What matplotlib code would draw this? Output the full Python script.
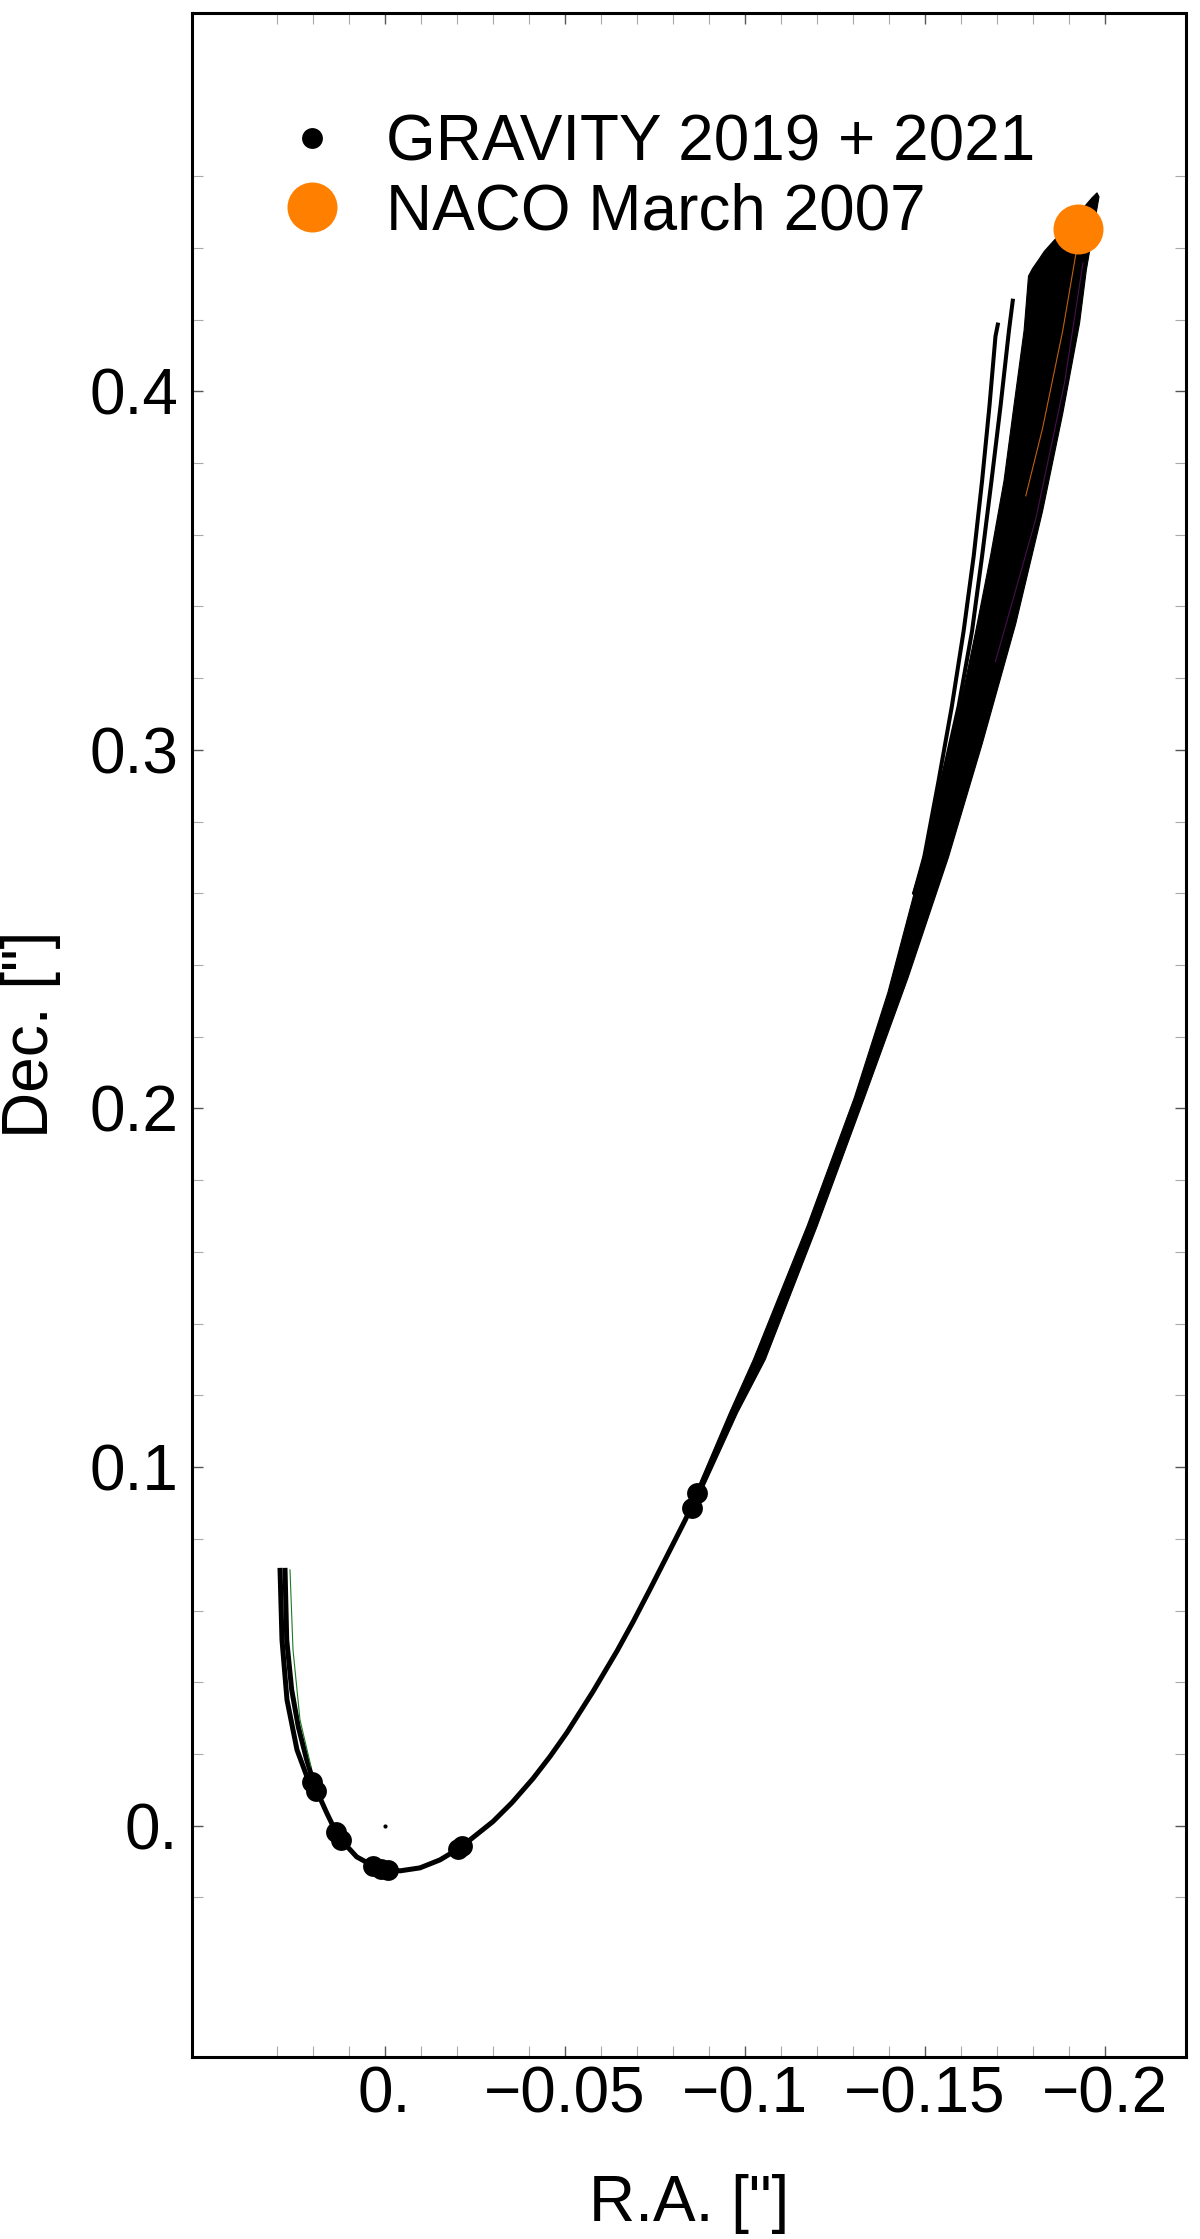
import numpy as np
import matplotlib
matplotlib.use('Agg')
import matplotlib.pyplot as plt
from matplotlib.lines import Line2D

plt.rcParams['font.family'] = ['Liberation Sans', 'DejaVu Sans']

# orbit through the GRAVITY points (R.A., Dec. in arcsec)
orbit_ra = [0.02767, 0.02719, 0.02581, 0.02397, 0.02164, 0.01933, 0.01608, 0.01286,
            0.00775, 0.00267, -0.00428, -0.00983, -0.01539, -0.02094, -0.03011,
            -0.03539, -0.04122, -0.04594, -0.05067, -0.05789, -0.06456, -0.06900,
            -0.07372, -0.08011, -0.08344, -0.08706, -0.09233, -0.09678, -0.10150]
orbit_dec = [0.07189, 0.05181, 0.03787, 0.02755, 0.01835, 0.01082, 0.00357, -0.00312,
             -0.00870, -0.01149, -0.01260, -0.01177, -0.00954, -0.00619, 0.00115,
             0.00643, 0.01313, 0.01927, 0.02599, 0.03740, 0.04870, 0.05680,
             0.06590, 0.07850, 0.08510, 0.09270, 0.10480, 0.11512, 0.12516]

# second trace at the start of the orbit
start_ra = [0.02906, 0.02850, 0.02711, 0.02433, 0.02072]
start_dec = [0.07189, 0.05182, 0.03508, 0.02113, 0.01137]
green_ra = [0.02628, 0.02544, 0.02350, 0.02044]
green_dec = [0.07133, 0.04902, 0.02950, 0.01645]

# envelope of the fan of orbits towards 2007
fan_left_ra = [-0.08636, -0.09581, -0.10244, -0.11739, -0.13047, -0.13981, -0.14700,
               -0.14960, -0.15480, -0.15990, -0.16420, -0.16831, -0.17206, -0.17483,
               -0.17764, -0.17886, -0.17997, -0.18186, -0.18325, -0.18606, -0.18839,
               -0.19317, -0.19650, -0.19789]
fan_left_dec = [0.09281, 0.11512, 0.12995, 0.16729, 0.20296, 0.23235, 0.25962,
                0.27011, 0.29108, 0.31208, 0.33305, 0.35404, 0.37502, 0.39601,
                0.41698, 0.43210, 0.43419, 0.43692, 0.43901, 0.44217, 0.44426,
                0.45003, 0.45393, 0.45532]
fan_right_ra = [-0.19844, -0.19492, -0.19306, -0.18839, -0.18278, -0.17531, -0.16597,
                -0.15664, -0.14542, -0.13328, -0.12019, -0.10572, -0.09803, -0.08789]
fan_right_dec = [0.45421, 0.43377, 0.41907, 0.39389, 0.36662, 0.33514, 0.30159,
                 0.27011, 0.23653, 0.20296, 0.16729, 0.12995, 0.11512, 0.09281]

# two orbits that split off from the fan
split1_ra = [-0.14700, -0.14990, -0.15383, -0.15756, -0.16083, -0.16364, -0.16597,
             -0.16803, -0.16969, -0.17044]
split1_dec = [0.25962, 0.27011, 0.29108, 0.31208, 0.33305, 0.35404, 0.37502,
              0.39601, 0.41534, 0.41913]
split2_ra = [-0.14700, -0.15030, -0.15475, -0.15944, -0.16317, -0.16597, -0.16858,
             -0.17111, -0.17344, -0.17456]
split2_dec = [0.25962, 0.27011, 0.29108, 0.31208, 0.33305, 0.35404, 0.37502,
              0.39601, 0.41698, 0.42580]

# coloured orbits visible inside the fan
orange_ra = [-0.19214, -0.18839, -0.18278, -0.17811]
orange_dec = [0.43901, 0.41698, 0.38971, 0.37083]
purple_ra = [-0.19400, -0.18886, -0.18092, -0.16969]
purple_dec = [0.43586, 0.40229, 0.36453, 0.32465]

# GRAVITY 2019 + 2021 positions
grav_ra = [0.02017, 0.01906, 0.01350, 0.01211, 0.00322, 0.00100, -0.00094,
           -0.02039, -0.02150, -0.08539, -0.08678]
grav_dec = [0.01221, 0.00970, -0.00173, -0.00396, -0.01121, -0.01205, -0.01233,
            -0.00647, -0.00563, 0.08862, 0.09281]

# NACO March 2007
naco_ra = [-0.1927]
naco_dec = [0.4453]

x_ticks = [0, -0.05, -0.1, -0.15, -0.2]
x_labels = ['0.', '\u22120.05', '\u22120.1', '\u22120.15', '\u22120.2']
y_ticks = [0, 0.1, 0.2, 0.3, 0.4]
y_labels = ['0.', '0.1', '0.2', '0.3', '0.4']

orange = '#ff8000'

fig = plt.figure(figsize=(12, 22.39), dpi=100)
ax = fig.add_axes([0.16, 0.0813, 0.8283, 0.9131])

ax.plot(orbit_ra, orbit_dec, color='black', lw=3.6, solid_capstyle='butt',
        solid_joinstyle='round', zorder=2)
ax.plot(start_ra, start_dec, color='black', lw=3.6, solid_capstyle='butt',
        solid_joinstyle='round', zorder=2)
ax.plot(green_ra, green_dec, color='#1f7a1f', lw=0.8, zorder=3)
ax.fill(fan_left_ra + fan_right_ra, fan_left_dec + fan_right_dec,
        facecolor='black', edgecolor='black', lw=0.8, zorder=2)
ax.plot(split1_ra, split1_dec, color='black', lw=2.9, solid_capstyle='butt',
        solid_joinstyle='round', zorder=2)
ax.plot(split2_ra, split2_dec, color='black', lw=2.9, solid_capstyle='butt',
        solid_joinstyle='round', zorder=2)
ax.plot(orange_ra, orange_dec, color='#c06010', lw=0.8, zorder=3)
ax.plot(purple_ra, purple_dec, color='#4a1050', lw=0.8, zorder=3)

ax.plot(grav_ra, grav_dec, 'o', color='black', ms=15, mew=0, zorder=4)
ax.plot([0], [0], 'o', color='black', ms=3, mew=0, zorder=4)
ax.plot(naco_ra, naco_dec, 'o', color=orange, ms=36, mew=0, zorder=5)

ax.set_xlim(0.0535, -0.2226)
ax.set_ylim(-0.0645, 0.5056)

ax.set_xticks(x_ticks)
ax.set_xticklabels(x_labels)
ax.set_yticks(y_ticks)
ax.set_yticklabels(y_labels)
ax.set_xticks(np.arange(-0.2, 0.031, 0.01), minor=True)
ax.set_yticks(np.arange(-0.02, 0.461, 0.02), minor=True)

ax.tick_params(which='both', direction='in', top=True, right=True, labelsize=46)
ax.tick_params(which='major', length=8, width=1.0, color='#555555')
ax.tick_params(which='minor', length=8, width=0.8, color='#aaaaaa')
ax.tick_params(axis='x', which='major', pad=6)
ax.tick_params(axis='y', which='major', pad=10)

for s in ax.spines.values():
    s.set_linewidth(2.2)

ax.set_xlabel('R.A. ["]', fontsize=46, labelpad=35)
ax.set_ylabel('Dec. ["]', fontsize=46, labelpad=20)

handles = [Line2D([], [], marker='o', ls='none', color='black', ms=15, mew=0),
           Line2D([], [], marker='o', ls='none', color=orange, ms=36, mew=0)]
ax.legend(handles, ['GRAVITY 2019 + 2021', 'NACO March 2007'], loc='upper left',
          bbox_to_anchor=(0.089, 0.9508), frameon=False, fontsize=46, borderpad=0,
          handlelength=1.0, handletextpad=0.65, labelspacing=0.15, borderaxespad=0)

fig.savefig('out.png', dpi=100)
